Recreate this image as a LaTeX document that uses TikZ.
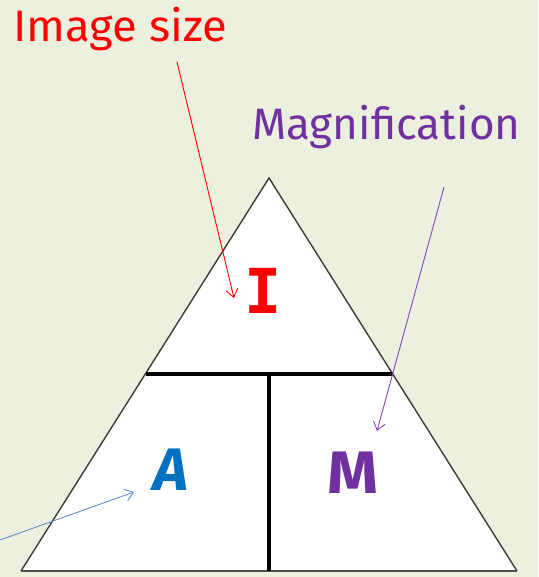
\documentclass[tikz,border=0pt]{standalone}
\usepackage{fontspec}
\setmainfont{Fira Sans}
\newfontfamily\letterfont{Fira Sans}
\newfontfamily\monofontI{DejaVu Sans Mono}
\usetikzlibrary{arrows.meta}
\definecolor{bgcol}{RGB}{236,240,222}
\definecolor{magpurple}{RGB}{112,48,160}
\definecolor{arrpurple}{RGB}{130,70,190}
\definecolor{ablue}{RGB}{0,112,192}
\definecolor{arrblue}{RGB}{100,140,200}
\definecolor{edgegray}{RGB}{60,60,60}
\tikzset{
  lbl/.style={inner sep=0pt, anchor=base west, font=\fontsize{44}{44}\selectfont},
  bigletter/.style={inner sep=0pt, anchor=base, font=\letterfont\bfseries\fontsize{60}{60}\selectfont},
  pointer/.style={line width=0.9pt, -{Straight Barb[length=8pt,width=12pt]}},
  outline/.style={draw=edgegray, line width=1.4pt, line join=miter},
  baseline/.style={draw=edgegray!90, line width=2.2pt},
  divider/.style={draw=black, line width=3.2pt},
}
\begin{document}
\begin{tikzpicture}[x=1pt,y=-1pt]
\fill[bgcol] (0,0) rectangle (538,577);
\useasboundingbox (0,0) rectangle (538,577);
\coordinate (apex) at (269,178);
\coordinate (bl) at (21,571);
\coordinate (br) at (517,571);
\coordinate (ml) at (145.5,374);
\coordinate (mr) at (392.5,374);
\coordinate (mm) at (269,374);
\coordinate (mb) at (269,571);
\fill[white] (apex) -- (bl) -- (br) -- cycle;
\draw[outline] (bl) -- (apex) -- (br);
\draw[baseline] (bl) -- (br);
\draw[divider] (ml) -- (mr);
\draw[divider] (mm) -- (mb);
\node[lbl, text=red, xscale=1.03] (imgsize) at (13,42) {Image size};
\node[lbl, text=magpurple] (magn) at (252,140) {Magnification};
\node[inner sep=0pt, anchor=base, text=red, font=\monofontI\bfseries\fontsize{62}{62}\selectfont] (letI) at (263,313) {I};
\node[bigletter, text=ablue] (letA) at (171,490) {\itshape A};
\node[bigletter, text=magpurple, xscale=1.08] (letM) at (353,493) {M};
\coordinate (redstart) at (177,62);
\coordinate (redend) at (234,298);
\coordinate (purstart) at (444,187);
\coordinate (purend) at (377,431);
\coordinate (bluestart) at (0,540);
\coordinate (blueend) at (134,492);
\draw[pointer, red] (redstart) -- (redend);
\draw[pointer, arrpurple] (purstart) -- (purend);
\draw[pointer, arrblue] (bluestart) -- (blueend);
\end{tikzpicture}
\end{document}
